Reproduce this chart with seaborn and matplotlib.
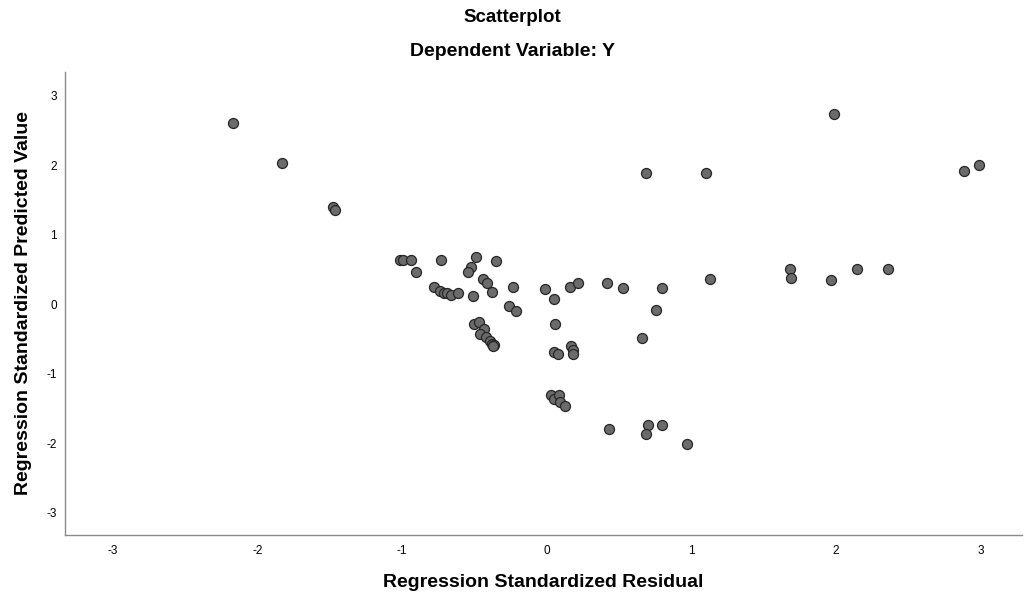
import matplotlib
matplotlib.use("Agg")
import matplotlib.pyplot as plt
import seaborn as sns
import pandas as pd

# values
residual = [-2.17, -1.83, -1.48, -1.46, -1.01, -0.99, -0.94, -0.90, -0.73, -0.78,
            -0.74, -0.71, -0.69, -0.66, -0.61, -0.49, -0.52, -0.54, -0.35, -0.51,
            -0.44, -0.41, -0.38, -0.23, -0.26, -0.21, -0.01, 0.05, 0.16, 0.22,
            0.42, 0.53, 0.06, -0.50, -0.47, -0.43, -0.46, -0.42, -0.39, -0.38,
            -0.36, -0.37, 0.05, 0.08, 0.17, 0.18, 0.18, 0.66, 0.03, 0.05,
            0.085, 0.09, 0.125, 0.43, 0.70, 0.685, 0.80, 0.97, 0.69, 1.10,
            1.99, 2.89, 2.99, 0.80, 1.13, 1.68, 1.69, 1.97, 2.15, 2.36,
            0.76]
predicted = [2.61, 2.03, 1.39, 1.35, 0.64, 0.64, 0.64, 0.46, 0.64, 0.25,
             0.19, 0.16, 0.16, 0.13, 0.16, 0.68, 0.54, 0.46, 0.62, 0.12,
             0.36, 0.30, 0.18, 0.24, -0.02, -0.10, 0.22, 0.07, 0.25, 0.31,
             0.31, 0.23, -0.28, -0.28, -0.25, -0.35, -0.43, -0.47, -0.53, -0.57,
             -0.58, -0.60, -0.68, -0.71, -0.60, -0.66, -0.72, -0.48, -1.30, -1.36,
             -1.31, -1.40, -1.47, -1.80, -1.74, -1.86, -1.74, -2.01, 1.89, 1.88,
             2.73, 1.92, 2.00, 0.23, 0.36, 0.50, 0.38, 0.35, 0.51, 0.50,
             -0.09]
ticks = [-3, -2, -1, 0, 1, 2, 3]

df = pd.DataFrame({"resid": residual, "pred": predicted})

sns.set_style("white")
plt.rcParams["font.family"] = ["Liberation Sans", "DejaVu Sans"]
plt.rcParams["axes.unicode_minus"] = False
plt.rcParams["text.color"] = "black"
plt.rcParams["axes.labelcolor"] = "black"
plt.rcParams["xtick.color"] = "black"
plt.rcParams["ytick.color"] = "black"

fig = plt.figure(figsize=(10.25, 5.98), dpi=100)
ax = fig.add_axes([0.0634, 0.105, 0.934, 0.775])

sns.scatterplot(data=df, x="resid", y="pred", ax=ax, s=52,
                color="#6b6b6b", edgecolor="#262626", linewidth=0.9)

ax.set_xlim(-3.33, 3.29)
ax.set_ylim(-3.32, 3.34)
ax.set_xticks(ticks)
ax.set_yticks(ticks)
ax.tick_params(axis="both", length=0, labelsize=8.5)
ax.tick_params(axis="x", pad=7)
ax.tick_params(axis="y", pad=6)

for side in ["top", "right"]:
    ax.spines[side].set_visible(False)
for side in ["left", "bottom"]:
    ax.spines[side].set_color("#8a8a8a")
    ax.spines[side].set_linewidth(1.0)

ax.set_xlabel("Regression Standardized Residual", fontsize=14, fontweight="bold", labelpad=12)
ax.set_ylabel("Regression Standardized Predicted Value", fontsize=14, fontweight="bold", labelpad=10)

fig.text(0.5, 1 - 18 / 598, "Scatterplot", ha="center", va="center", fontsize=13.5, fontweight="bold")
fig.text(0.5, 1 - 52 / 598, "Dependent Variable: Y", ha="center", va="center", fontsize=14, fontweight="bold")

fig.savefig("out.png", dpi=100)
